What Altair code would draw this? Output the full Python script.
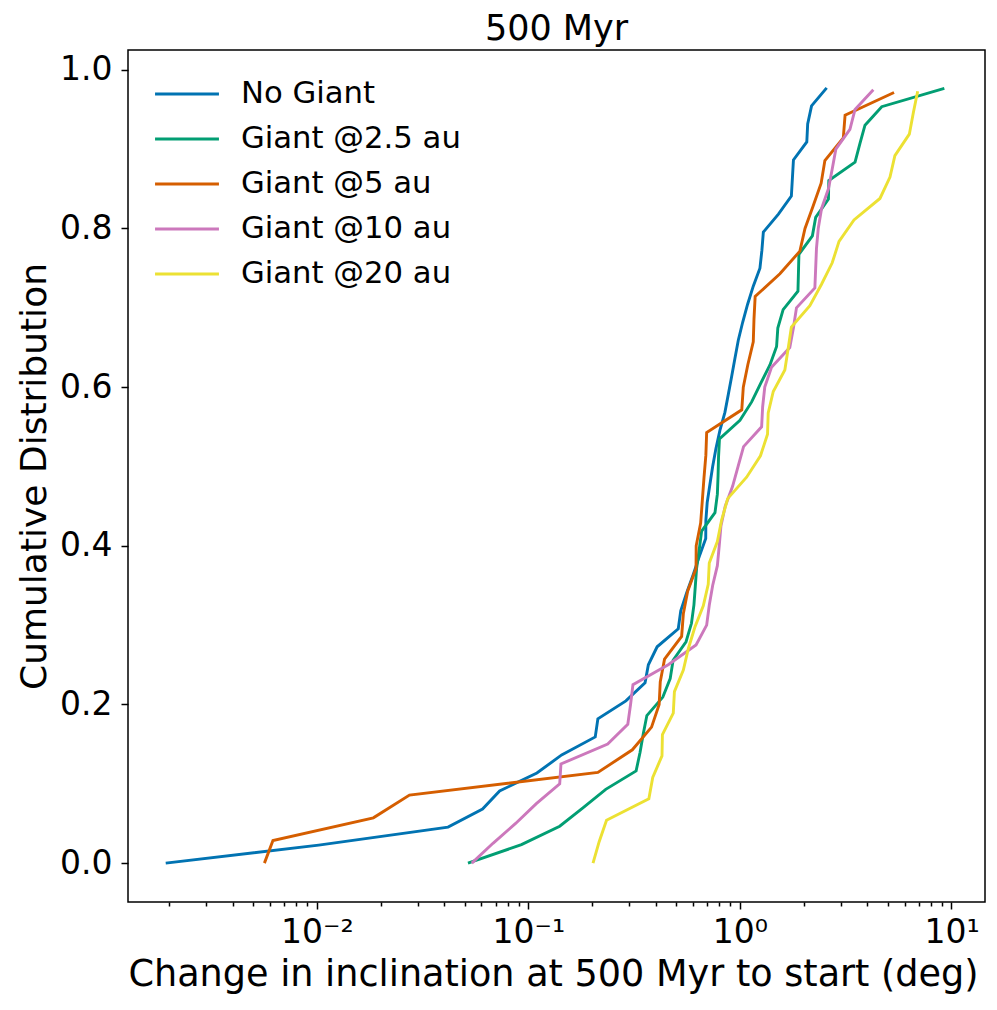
import altair as alt
import pandas as pd

# ---- data (sorted values; CDF level = k/N) ----
no_giant = [0.00193, 0.0102, 0.0417, 0.0607, 0.0731, 0.1097, 0.1436, 0.207, 0.213, 0.289,
            0.356, 0.369, 0.406, 0.511, 0.525, 0.560, 0.601, 0.642, 0.689, 0.690,
            0.700, 0.721, 0.743, 0.770, 0.804, 0.849, 0.881, 0.914, 0.947, 0.982,
            1.03, 1.087, 1.156, 1.243, 1.27, 1.29, 1.52, 1.75, 1.77, 1.79,
            2.07, 2.09, 2.18, 2.57]
giant_2p5 = [0.0518, 0.0927, 0.1406, 0.181, 0.232, 0.323, 0.337, 0.349, 0.363, 0.432,
             0.468, 0.483, 0.556, 0.59, 0.606, 0.615, 0.624, 0.642, 0.659, 0.762,
             0.782, 0.788, 0.792, 0.80, 1.0, 1.136, 1.253, 1.386, 1.49, 1.51,
             1.60, 1.88, 1.89, 1.90, 2.20, 2.28, 2.62, 2.63, 3.50, 3.69,
             3.90, 4.68, 9.25]
giant_5 = [0.00565, 0.0062, 0.0185, 0.0274, 0.213, 0.310, 0.382, 0.415, 0.42, 0.44,
           0.53, 0.54, 0.566, 0.62, 0.621, 0.652, 0.664, 0.676, 0.69, 0.696,
           1.02, 1.037, 1.09, 1.156, 1.165, 1.18, 1.545, 1.92, 2.03, 2.22,
           2.42, 2.52, 3.08, 3.14, 5.35]
giant_10 = [0.054, 0.068, 0.087, 0.109, 0.1406, 0.1425, 0.237, 0.295, 0.304, 0.312,
            0.458, 0.62, 0.696, 0.716, 0.743, 0.782, 0.798, 0.813, 0.852, 0.923,
            0.98, 1.04, 1.266, 1.28, 1.31, 1.41, 1.72, 1.79, 1.85, 2.26,
            2.28, 2.30, 2.345, 2.43, 2.62, 2.73, 2.84, 3.31, 3.50, 4.27]
giant_20 = [0.202, 0.216, 0.234, 0.371, 0.387, 0.428, 0.43, 0.484, 0.49, 0.54,
            0.57, 0.612, 0.671, 0.708, 0.716, 0.782, 0.819, 0.875, 1.075, 1.25,
            1.35, 1.36, 1.437, 1.63, 1.69, 1.75, 2.14, 2.43, 2.73, 2.94,
            3.46, 4.59, 5.12, 5.40, 6.32, 6.6, 6.92]

series_names = ["No Giant", "Giant @2.5 au", "Giant @5 au", "Giant @10 au", "Giant @20 au"]
series_values = [no_giant, giant_2p5, giant_5, giant_10, giant_20]
series_colors = ["#0173b2", "#029e73", "#d55e00", "#cc78bc", "#ece133"]

x_major_ticks = [0.01, 0.1, 1, 10]
x_major_labels = ["10⁻²", "10⁻¹", "10⁰", "10¹"]
x_minor_ticks = [m * d for d in [0.001, 0.01, 0.1, 1] for m in range(2, 10)]
y_ticks = [0.0, 0.2, 0.4, 0.6, 0.8, 1.0]
x_domain = [0.00128, 14.4]
y_domain = [-0.049, 1.025]

rows = []
for name, vals in zip(series_names, series_values):
    n = len(vals)
    for k, v in enumerate(vals):
        rows.append({"series": name, "x": v, "cdf": k / n, "k": k})
df = pd.DataFrame(rows)

FONT = "DejaVu Sans"

label_expr = " : ".join(
    f"abs(datum.value - {v}) < {v}*1e-6 ? '{lab}'" for v, lab in zip(x_major_ticks, x_major_labels)
) + " : ''"
major_test = " || ".join(f"abs(datum.value - {v}) < {v}*1e-6" for v in x_major_ticks)

x_axis = alt.Axis(
    values=sorted(x_major_ticks + x_minor_ticks),
    labelExpr=label_expr,
    labelOverlap=False,
    labelFontSize=33,
    labelFont=FONT,
    labelColor="black",
    labelPadding=7,
    tickSize={"condition": {"test": major_test, "value": 7}, "value": 4},
    tickColor="black",
    tickWidth=1.5,
    grid=False,
    domain=False,
    title="Change in inclination at 500 Myr to start (deg)",
    titleFontSize=36.6,
    titleFont=FONT,
    titleFontWeight="normal",
    titleColor="black",
    titleBaseline="alphabetic",
    titleAlign="center",
    titleX=425,
    titleY=83,
)
y_axis = alt.Axis(
    values=y_ticks,
    format=".1f",
    labelFontSize=33,
    labelFont=FONT,
    labelColor="black",
    labelPadding=9,
    tickSize=7,
    tickColor="black",
    tickWidth=1.5,
    grid=False,
    domain=False,
    title="Cumulative Distribution",
    titleFontSize=36,
    titleFont=FONT,
    titleFontWeight="normal",
    titleColor="black",
    titleBaseline="alphabetic",
    titleAngle=-90,
    titleX=-83,
    titleY=426,
    titleAlign="center",
)

legend = alt.Legend(
    title=None,
    orient="none",
    legendX=35,
    legendY=20,
    padding=0,
    symbolType="M-1.42,0H1.42",
    symbolSize=2025,
    symbolStrokeWidth=2.8,
    labelFontSize=30.7,
    labelFont=FONT,
    labelColor="black",
    labelOffset=30,
    labelLimit=0,
    rowPadding=6,
)

chart = alt.Chart(df).mark_line(strokeWidth=2.9).encode(
    x=alt.X("x:Q", scale=alt.Scale(type="log", domain=x_domain, nice=False), axis=x_axis),
    y=alt.Y("cdf:Q", scale=alt.Scale(domain=y_domain, nice=False, zero=False), axis=y_axis),
    color=alt.Color("series:N", scale=alt.Scale(domain=series_names, range=series_colors),
                    legend=legend, sort=series_names),
    order=alt.Order("k:Q"),
).properties(
    width=857,
    height=852,
    title=alt.TitleParams("500 Myr", fontSize=35, font=FONT, fontWeight="normal",
                          color="black", offset=3, frame="group"),
    autosize=alt.AutoSizeParams(type="none"),
    padding={"left": 120, "top": 42, "right": 4, "bottom": 100},
).configure(
    background="white"
).configure_view(
    stroke="black", strokeWidth=1.5
)

chart.save("out.html", embed_options={"renderer": "svg", "actions": False})
